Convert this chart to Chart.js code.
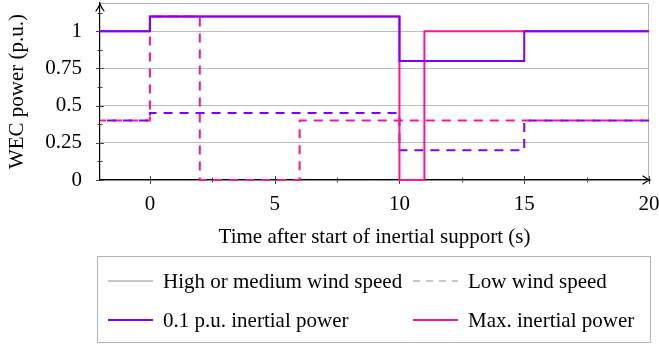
<!DOCTYPE html>
<html>
<head>
<meta charset="utf-8">
<script src="https://cdn.jsdelivr.net/npm/chart.js@4"></script>
<style>
  html, body { margin: 0; padding: 0; background: #fff; }
  #wrap { position: relative; width: 659px; height: 349px; overflow: hidden; }
  canvas { position: absolute; left: 0; top: 0; }
  #legend { position: absolute; left: 97px; top: 256px; width: 554px; height: 87px; border: 1px solid #b4b4b4; box-sizing: border-box; font-family: 'Liberation Serif', serif; font-size: 21px; color: #000; }
  .item { position: absolute; white-space: nowrap; line-height: 20px; }
  .item svg { position: absolute; }
</style>
</head>
<body>
<div id="wrap">
  <canvas id="c" width="659" height="349"></canvas>
  <div id="legend"></div>
</div>
<script>
// ---- data ----
const timeHigh01 = [-2, 0, 10, 15, 20];
const powerHigh01 = [1, 1.1, 0.8, 1, 1];
const timeHighMax = [-2, 0, 10, 11, 20];
const powerHighMax = [1, 1.1, 0, 1, 1];
const timeLow01 = [-2, 0, 10, 15, 20];
const powerLow01 = [0.4, 0.45, 0.2, 0.4, 0.4];
const timeLowMax = [-2, 0, 2, 6, 20];
const powerLowMax = [0.4, 1.1, 0, 0.4, 0.4];

const xTicks = [0, 5, 10, 15, 20];
const xMinorTicks = [2.5, 7.5, 12.5, 17.5];
const yTicks = [0, 0.25, 0.5, 0.75, 1];
const yMinorTicks = [0.125, 0.375, 0.625, 0.875, 1.125];

const legendEntries = [
  { label: 'High or medium wind speed', color: '#b4b4b4', dash: false },
  { label: 'Low wind speed', color: '#b4b4b4', dash: true },
  { label: '0.1 p.u. inertial power', color: '#7f00ff', dash: false },
  { label: 'Max. inertial power', color: '#ff1493', dash: false }
];

// ---- styles ----
const PURPLE = '#7f00ff';
const PINK = '#ff1493';
const DASH = [9, 7];
const FONT = { family: "'Liberation Serif', serif", size: 21 };

const zip = (xs, ys) => xs.map((x, i) => ({ x: x, y: ys[i] }));

const framePlugin = {
  id: 'frame',
  beforeDatasetsDraw(chart) {
    const { ctx, chartArea: a, scales: { x, y } } = chart;
    ctx.save();
    ctx.strokeStyle = '#b4b4b4';
    ctx.lineWidth = 1;
    ctx.beginPath();
    ctx.moveTo(a.left, a.top + 0.5);
    ctx.lineTo(a.right - 0.5, a.top + 0.5);
    ctx.lineTo(a.right - 0.5, a.bottom);
    ctx.stroke();
    ctx.strokeStyle = '#444';
    ctx.beginPath();
    xTicks.forEach(v => { const px = Math.round(x.getPixelForValue(v)) + 0.5; ctx.moveTo(px, a.bottom - 4); ctx.lineTo(px, a.bottom + 4); });
    xMinorTicks.forEach(v => { const px = Math.round(x.getPixelForValue(v)) + 0.5; ctx.moveTo(px, a.bottom - 2.5); ctx.lineTo(px, a.bottom + 2.5); });
    yTicks.forEach(v => { const py = Math.round(y.getPixelForValue(v)) + 0.5; ctx.moveTo(a.left - 4, py); ctx.lineTo(a.left + 4, py); });
    yMinorTicks.forEach(v => { const py = Math.round(y.getPixelForValue(v)) + 0.5; ctx.moveTo(a.left - 2.5, py); ctx.lineTo(a.left + 2.5, py); });
    ctx.stroke();
    ctx.restore();
  },
  afterDraw(chart) {
    const { ctx, chartArea: a } = chart;
    ctx.save();
    ctx.strokeStyle = '#000';
    ctx.lineWidth = 1.2;
    ctx.lineCap = 'round';
    const xr = a.right + 1, yb = a.bottom;
    ctx.beginPath();
    ctx.moveTo(xr - 7, yb - 4); ctx.quadraticCurveTo(xr - 3, yb - 1, xr, yb);
    ctx.quadraticCurveTo(xr - 3, yb + 1, xr - 7, yb + 4);
    ctx.stroke();
    const xl = a.left, yt = a.top + 1;
    ctx.beginPath();
    ctx.moveTo(xl - 4, yt + 7); ctx.quadraticCurveTo(xl - 1, yt + 3, xl, yt);
    ctx.quadraticCurveTo(xl + 1, yt + 3, xl + 4, yt + 7);
    ctx.stroke();
    ctx.restore();
  }
};

const common = { borderWidth: 2, stepped: true, pointRadius: 0, fill: false, clip: 6 };

new Chart(document.getElementById('c'), {
  type: 'line',
  data: {
    datasets: [
      Object.assign({ label: 'High wind, 0.1 p.u.', data: zip(timeHigh01, powerHigh01), borderColor: PURPLE }, common),
      Object.assign({ label: 'High wind, max.', data: zip(timeHighMax, powerHighMax), borderColor: PINK }, common),
      Object.assign({ label: 'Low wind, 0.1 p.u.', data: zip(timeLow01, powerLow01), borderColor: PURPLE, borderDash: DASH, borderDashOffset: -7 }, common),
      Object.assign({ label: 'Low wind, max.', data: zip(timeLowMax, powerLowMax), borderColor: PINK, borderDash: DASH, borderDashOffset: 3 }, common)
    ]
  },
  options: {
    responsive: false,
    animation: false,
    devicePixelRatio: 1,
    layout: { padding: { top: 3, right: 10, bottom: 99, left: 0 } },
    plugins: { legend: { display: false }, tooltip: { enabled: false } },
    scales: {
      x: {
        type: 'linear', min: -2, max: 20,
        afterBuildTicks: s => { s.ticks = xTicks.map(v => ({ value: v })); },
        afterFit: s => { s.height = 70; s.paddingLeft = 0; s.paddingRight = 0; },
        grid: { display: false, drawTicks: false },
        border: { display: true, color: '#000', width: 1.2 },
        ticks: { padding: 12, font: FONT, color: '#000', maxRotation: 0, autoSkip: false, callback: v => String(v) },
        title: { display: true, text: 'Time after start of inertial support (s)', font: FONT, color: '#000', padding: { top: 0, bottom: 0 } }
      },
      y: {
        type: 'linear', min: 0, max: 1.19,
        afterBuildTicks: s => { s.ticks = yTicks.map(v => ({ value: v })); },
        afterFit: s => { s.width = 100; s.paddingTop = 0; s.paddingBottom = 0; },
        grid: { display: true, drawTicks: false, color: '#bdbdbd', lineWidth: 1 },
        border: { display: true, color: '#000', width: 1.2 },
        ticks: { padding: 18, font: FONT, color: '#000', autoSkip: false, callback: v => String(v) },
        title: { display: true, text: 'WEC power (p.u.)', font: FONT, color: '#000', padding: { top: 5, bottom: 0 } }
      }
    }
  },
  plugins: [framePlugin]
});

// ---- HTML legend ----
const legendEl = document.getElementById('legend');
const slots = [ { l: 10, t: 14 }, { l: 315, t: 14 }, { l: 10, t: 53 }, { l: 315, t: 53 } ];
legendEntries.forEach((e, i) => {
  const d = document.createElement('div');
  d.className = 'item';
  d.style.left = slots[i].l + 'px';
  d.style.top = slots[i].t + 'px';
  const dash = e.dash ? ' stroke-dasharray="7 6"' : '';
  d.innerHTML = '<svg width="46" height="20" style="left:0;top:0"><line x1="0" y1="10" x2="45" y2="10" stroke="' + e.color + '" stroke-width="' + (e.color === '#b4b4b4' ? 1.3 : 2) + '"' + dash + '/></svg>' +
    '<span style="position:absolute;left:55px;top:0">' + e.label + '</span>';
  legendEl.appendChild(d);
});
</script>
</body>
</html>
